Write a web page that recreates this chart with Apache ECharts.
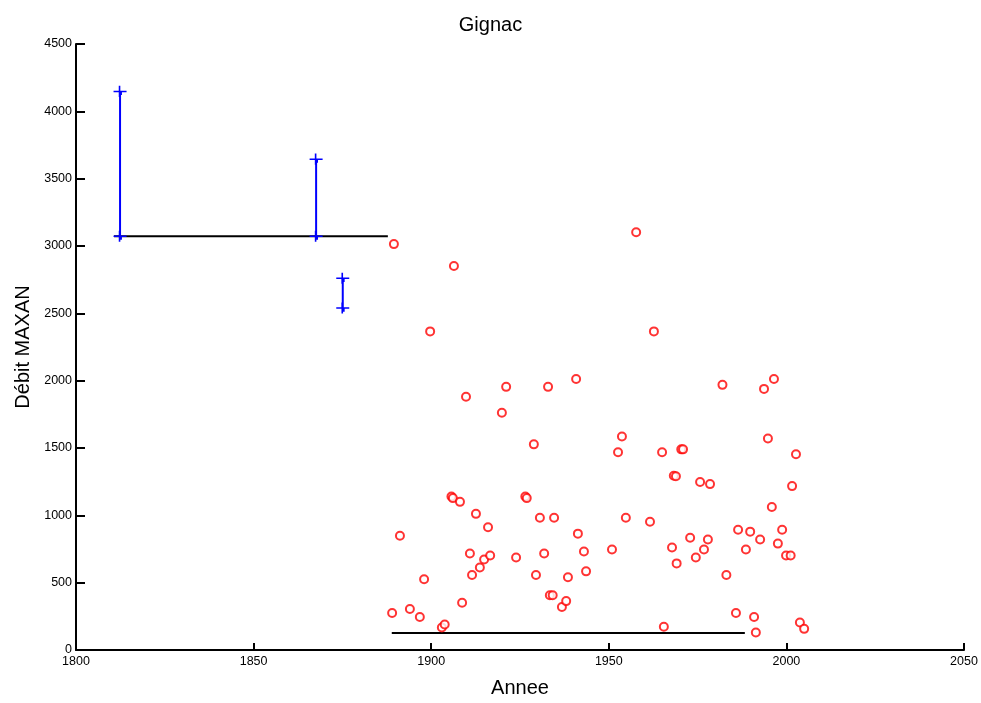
<!DOCTYPE html>
<html>
<head>
<meta charset="utf-8">
<script src="https://cdn.jsdelivr.net/npm/echarts@6/dist/echarts.min.js"></script>
<style>html,body{margin:0;padding:0;background:#fff;overflow:hidden;}#c{width:981px;height:703px;}</style>
</head>
<body>
<div id="c"></div>
<script>
// Annual maxima (red circles)
const years = [1889.0,1889.5,1891.2,1894.0,1896.8,1898.0,1899.7,1903.0,1903.8,1905.7,1906.1,1906.4,1908.1,1908.7,1909.8,1910.9,1911.5,1912.6,1913.7,1914.9,1916.0,1916.6,1919.9,1921.1,1923.9,1926.5,1926.9,1928.9,1929.5,1930.6,1931.8,1932.9,1933.4,1934.2,1934.6,1936.8,1938.0,1938.5,1940.8,1941.3,1943.0,1943.6,1950.9,1952.6,1953.7,1954.8,1957.7,1961.6,1962.7,1965.0,1965.5,1967.8,1968.3,1968.9,1969.1,1970.4,1970.9,1972.9,1974.5,1975.7,1976.8,1977.9,1978.5,1982.0,1983.1,1985.8,1986.4,1988.6,1989.8,1990.9,1991.4,1992.6,1993.7,1994.8,1995.9,1996.5,1997.6,1998.8,1999.9,2001.2,2001.6,2002.7,2003.8,2005.0];
const values = [275,3014,849,304,245,525,2366,167,189,1140,1128,2852,1100,351,1880,717,557,1011,613,672,911,702,1762,1954,687,1140,1128,1527,557,982,717,1954,407,407,982,319,363,540,2012,864,731,584,746,1468,1585,982,3102,952,2366,1468,172,761,1294,1290,643,1490,1490,834,687,1247,746,820,1232,1969,557,275,893,746,879,245,130,820,1939,1571,1062,2012,790,893,702,702,1217,1453,204,157];
// Historical flood intervals (blue)
const intervalYears = [1812.4, 1867.6, 1875.1];
const intervalLow = [3073, 3073, 2540];
const intervalHigh = [4148, 3645, 2761];
// Threshold lines (black)
const thresholdStart = [1810.7, 1888.9];
const thresholdEnd = [1887.8, 1988.3];
const thresholdValue = [3073, 127];
// Axis ticks
const xMin = 1800, xMax = 2050, xStep = 50;
const yMin = 0, yMax = 4500, yStep = 500;

const plusPath = 'path://M0,5.2h13v1.6h-13z M5.2,0h1.6v12h-1.6z M6.8,7h1.6v3h-1.6z';
const series = [];
thresholdValue.forEach((v, i) => {
  series.push({
    type: 'line', data: [[thresholdStart[i], v], [thresholdEnd[i], v]],
    symbol: 'none', lineStyle: {color: '#000', width: 2}, silent: true, z: 2
  });
});
intervalYears.forEach((yr, i) => {
  series.push({
    type: 'line', data: [[yr, intervalLow[i]], [yr, intervalHigh[i]]],
    symbol: plusPath, symbolSize: [13, 12], symbolKeepAspect: true,
    itemStyle: {color: '#0000ff'}, lineStyle: {color: '#0000ff', width: 2}, z: 3
  });
});
series.push({
  type: 'scatter', data: years.map((y, i) => [y, values[i]]),
  symbol: 'emptyCircle', symbolSize: 8,
  itemStyle: {color: '#ff0000', borderColor: '#ff0000', borderWidth: 2}, z: 4
});

const chart = echarts.init(document.getElementById('c'), null, {renderer: 'canvas', width: 981, height: 703});
chart.setOption({
  animation: false,
  backgroundColor: '#fff',
  textStyle: {fontFamily: 'Liberation Sans, Arial, sans-serif'},
  title: {text: 'Gignac', left: 'center', top: 10,
    textStyle: {fontSize: 20, fontWeight: 'normal', color: '#000', fontFamily: 'Liberation Sans'}},
  grid: {left: 76, width: 888, top: 44, height: 611, containLabel: false},
  xAxis: {
    type: 'value', min: xMin, max: xMax, interval: xStep,
    name: 'Annee', nameLocation: 'middle', nameGap: 28,
    nameTextStyle: {fontSize: 20, color: '#000', fontFamily: 'Liberation Sans'},
    axisLine: {lineStyle: {color: '#000', width: 2}},
    axisTick: {inside: true, length: 7, lineStyle: {color: '#000', width: 2}},
    axisLabel: {color: '#000', fontSize: 12.5, margin: 5, fontFamily: 'Liberation Sans', formatter: v => String(v)},
    splitLine: {show: false}
  },
  yAxis: {
    type: 'value', min: yMin, max: yMax, interval: yStep,
    name: 'Débit MAXAN', nameLocation: 'middle', nameGap: 43, nameRotate: 90,
    nameTextStyle: {fontSize: 20, color: '#000', fontFamily: 'Liberation Sans'},
    axisLine: {show: true, lineStyle: {color: '#000', width: 2}},
    axisTick: {show: true, inside: true, length: 9, lineStyle: {color: '#000', width: 2}},
    axisLabel: {color: '#000', fontSize: 12.5, margin: 4, fontFamily: 'Liberation Sans', formatter: v => String(v)},
    splitLine: {show: false}
  },
  series: series
});
</script>
</body>
</html>
